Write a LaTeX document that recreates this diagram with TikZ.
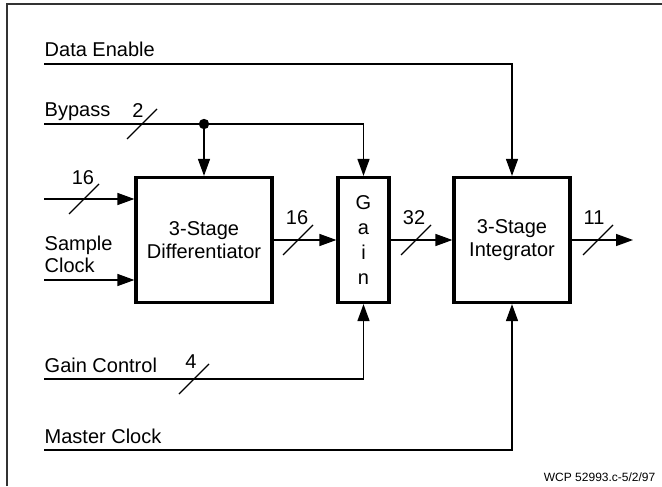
\documentclass[tikz,border=0pt]{standalone}
\usepackage{fontspec}
\setmainfont{Liberation Sans}
\usetikzlibrary{arrows.meta}

\begin{document}
\begin{tikzpicture}[x=0.5pt,y=-0.5pt,line width=0.7pt,>={Triangle[length=8.5pt,width=6pt]},
  blk/.style={draw,line width=1.6pt,align=center,inner sep=0pt,minimum height=62.5pt,font=\fontsize{10}{11.5}\selectfont},
  lbl/.style={anchor=base west,inner sep=0pt,align=left,font=\fontsize{10}{11}\selectfont},
  wdt/.style={inner sep=0pt,font=\fontsize{10}{12}\selectfont},
  busmark/.style={line width=0.6pt}]
  \useasboundingbox (0,0) rectangle (662,486);
  \draw[line width=0.6pt,black!80] (7,486) -- (7,4) -- (662,4);
  % bloques
  \node[blk,minimum width=68pt] (diff) at (204,240) {3-Stage\\Differentiator};
  \node[blk,minimum width=25.5pt,font=\fontsize{10}{12.5}\selectfont] (gain) at (363.5,240) {G\\a\\i\\n};
  \node[blk,minimum width=58pt] (integ) at (512,240) {3-Stage\\Integrator};
  % entradas
  \coordinate (de) at (44,64);  \draw[->] (de) -| (integ.north);
  \node[lbl] (deL) at (44,57) {Data Enable};
  \coordinate (bp) at (44,124); \draw[->] (bp) -| (gain.north);
  \node[lbl] (bpL) at (44,117) {Bypass};
  \coordinate (tap) at (diff.north |- bp); \draw[->] (tap) -- (diff.north);
  \fill (tap) circle (2.6pt);
  \coordinate (din) at (44,199); \draw[->] (din) -- (din -| diff.west);
  \coordinate (sck) at (44,280); \draw[->] (sck) -- (sck -| diff.west);
  \node[lbl] (sckL) at (44,272) {Sample\\Clock};
  \coordinate (gc) at (44,379); \draw[->] (gc) -| (gain.south);
  \node[lbl] (gcL) at (44,372) {Gain Control};
  \coordinate (mc) at (44,450); \draw[->] (mc) -| (integ.south);
  \node[lbl] (mcL) at (44,443) {Master Clock};
  % salidas
  \draw[->] (diff.east) -- (gain.west);
  \draw[->] (gain.east) -- (integ.west);
  \coordinate (out) at (633,240); \draw[->] (integ.east) -- (out);
  % anchos de bus
  \foreach \n/\x/\y/\w/\dx/\dy in {a/142/124/2/-4/-13, b/84/199/16/-1/-21, c/298/240/16/-1/-22,
      d/416/240/32/-2/-22, e/598/240/11/-4/-22, f/194/379/4/-3/-17}{
    \draw[busmark] (\x-15,\y+15) -- (\x+15,\y-15);
    \node[wdt] (bw\n) at (\x+\dx,\y+\dy) {\w};
  }
  \node[anchor=base east,inner sep=0pt,font=\fontsize{6}{7}\selectfont] (ref) at (656,481) {WCP 52993.c-5/2/97};
\end{tikzpicture}
\end{document}
